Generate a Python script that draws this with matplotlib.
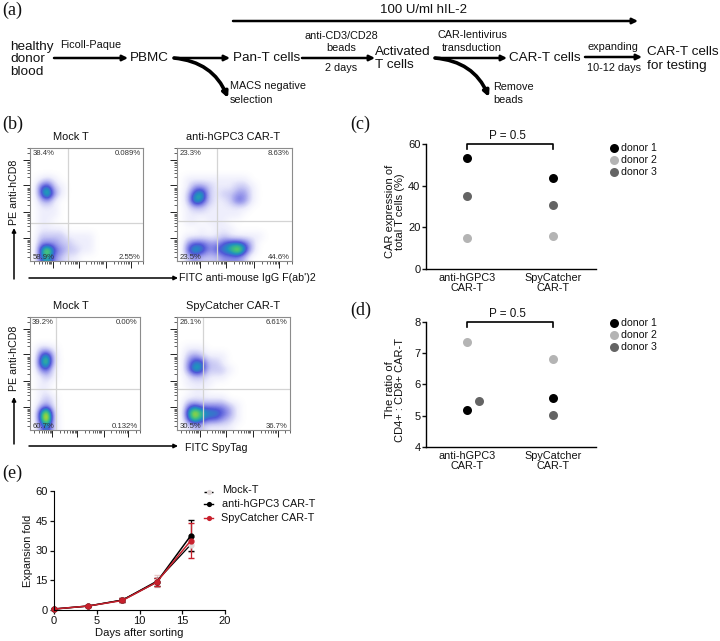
import numpy as np
import matplotlib
matplotlib.use('Agg')
import matplotlib.pyplot as plt
from matplotlib.colors import LinearSegmentedColormap
from matplotlib.patches import FancyArrowPatch

plt.rcParams['font.family'] = ['Liberation Sans', 'DejaVu Sans']

W, H = 720, 641

# flow plots: density read by eye on a 16x16 grid, 0 = empty, 9 = hottest
mock1_density = ['', '', '', '',
                 '0121', '04521', '04731', '0231', '0111', '0111', '011', '01111',
                 '022221111', '033322111', '058432211', '04632110']
gpc3_density = ['', '', '', '',
                '01111111110', '01332111221', '02562122331', '02652112431', '0122111111', '011111111', '0110111', '00010111',
                '011111211111', '0344334554200', '0465345685200', '0232223332']
mock2_density = ['', '', '', '',
                 '0221', '0462', '0572', '0341', '0121', '011', '011', '0121',
                 '0231', '0582', '0592', '0352']
spy_density = ['', '', '', '',
               '0111', '02321110', '03552210', '03652221', '01221110', '01111', '00110', '01111110',
               '034333321', '058655431', '047544321', '01221111']

mock1_pct = ['38.4%', '0.089%', '58.9%', '2.55%']
gpc3_pct = ['23.3%', '8.63%', '23.5%', '44.6%']
mock2_pct = ['39.2%', '0.00%', '60.7%', '0.132%']
spy_pct = ['26.1%', '6.61%', '30.5%', '36.7%']

# panel c and d
car_names = ['anti-hGPC3\nCAR-T', 'SpyCatcher\nCAR-T']
donor_names = ['donor 1', 'donor 2', 'donor 3']
donor_colors = ['#000000', '#b4b4b4', '#646464']
c_x = [[1, 2], [1, 2], [1, 2]]
c_vals = [[53.5, 43.5], [14.7, 15.7], [35.0, 30.5]]
d_x = [[1, 2], [1, 2], [1.14, 2]]
d_vals = [[5.2, 5.57], [7.35, 6.83], [5.47, 5.03]]

# panel e
days = [0, 4, 8, 12, 16]
mock_fold = [0.5, 2.0, 5.0, 14.5, 33.0]
mock_err = [0.2, 0.3, 0.8, 3.0, 4.0]
gpc3_fold = [0.5, 2.0, 5.0, 14.0, 37.5]
gpc3_err = [0.3, 0.3, 1.0, 2.0, 8.0]
spy_fold = [0.5, 2.0, 4.8, 14.0, 35.0]
spy_err = [0.2, 0.3, 1.0, 2.0, 9.0]

flow_cmap = LinearSegmentedColormap.from_list('flow', ['#ffffff', '#eeeefc', '#c8c8f4', '#9494ea', '#5058d8',
                                                        '#2090c0', '#40c080', '#a8d830', '#e8a020', '#e03010'])

fig = plt.figure(figsize=(W / 100, H / 100), dpi=100)


def px_axes(left, top, right, bottom):
    return fig.add_axes([left / W, 1 - bottom / H, (right - left) / W, (bottom - top) / H])


# whole figure overlay in pixels for the diagram and labels
bg = fig.add_axes([0, 0, 1, 1], zorder=5)
bg.set_xlim(0, W)
bg.set_ylim(H, 0)
bg.axis('off')
bg.patch.set_alpha(0)


def label(x, y, s, size=7.8, ha='left', **kw):
    bg.text(x, y, s, fontsize=size, ha=ha, va='center', color=kw.pop('color', '#111111'), **kw)


def arrow(x0, y0, x1, y1, lw=1.6, rad=0.0, head=8):
    bg.add_patch(FancyArrowPatch((x0, y0), (x1, y1), arrowstyle='-|>', mutation_scale=head, lw=lw, color='black',
                                 connectionstyle='arc3,rad=%s' % rad, shrinkA=0, shrinkB=0))


def flow_plot(box, rows, vgate, hgate, pct):
    ax = px_axes(*box)
    grid = np.array([[int(c) for c in r.ljust(16, '0')] for r in rows])
    ax.imshow(grid, extent=(0, 1, 0, 1), cmap=flow_cmap, vmin=0, vmax=9, interpolation='bicubic', aspect='auto')
    ax.axvline(vgate, color='#d4d4d4', lw=0.9)
    ax.axhline(hgate, color='#d4d4d4', lw=0.9)
    for s in ax.spines.values():
        s.set_color('#8c8c8c')
        s.set_linewidth(0.8)
    # log style ticks
    major = [0.2, 0.43, 0.67, 0.89]
    dec = [-0.03] + major
    minor = [d + 0.23 * np.log10(k) for d in dec for k in range(2, 10)]
    minor = [m for m in minor if 0.01 < m < 1]
    for axis in (ax.xaxis, ax.yaxis):
        axis.set_ticks(major)
        axis.set_ticks(minor, minor=True)
        axis.set_ticklabels([])
    ax.tick_params(which='major', length=5, width=0.7, color='#222222')
    ax.tick_params(which='minor', length=2.5, width=0.5, color='#222222')
    ax.set_xlim(0, 1)
    ax.set_ylim(0, 1)
    kw = dict(fontsize=5.6, color='#333333', transform=ax.transAxes, zorder=5)
    ax.text(0.02, 0.955, pct[0], ha='left', va='center', **kw)
    ax.text(0.98, 0.955, pct[1], ha='right', va='center', **kw)
    ax.text(0.02, 0.035, pct[2], ha='left', va='center', **kw)
    ax.text(0.98, 0.035, pct[3], ha='right', va='center', **kw)


flow_plot((30, 148, 143, 261), mock1_density, 0.34, 0.34, mock1_pct)
flow_plot((177, 148, 292, 261), gpc3_density, 0.35, 0.35, gpc3_pct)
flow_plot((30, 317, 140, 430), mock2_density, 0.24, 0.36, mock2_pct)
flow_plot((177, 317, 290, 430), spy_density, 0.23, 0.36, spy_pct)


def dot_plot(top, bottom, xs, vals, ylim, yticks, ylabel, legend_y):
    ax = px_axes(426, top, 596, bottom)
    for x, v, col in zip(xs, vals, donor_colors):
        ax.scatter(x, v, s=42, color=col, zorder=3, linewidths=0)
    ax.set_xlim(0.523, 2.5)
    ax.set_ylim(*ylim)
    ax.set_xticks([1, 2])
    ax.set_xticklabels(car_names, fontsize=7.8, linespacing=0.95, color='#111111')
    ax.tick_params(axis='x', length=0, pad=3)
    ax.set_yticks(yticks)
    ax.tick_params(axis='y', length=3, width=1, labelsize=8, pad=1, colors='#111111')
    for s in ['top', 'right']:
        ax.spines[s].set_visible(False)
    ax.spines['left'].set_linewidth(1)
    ax.spines['bottom'].set_linewidth(1)
    bg.text(395, (top + bottom) / 2 + 5, ylabel, rotation=90, fontsize=8, ha='center', va='center',
            linespacing=0.95, color='#111111')
    # bracket
    bg.plot([467, 467, 553, 553], [top + 5, top, top, top + 5], color='black', lw=1.2)
    label(507, top - 8, 'P = 0.5', 8.4, ha='center')
    for k, (name, col) in enumerate(zip(donor_names, donor_colors)):
        bg.scatter(614, legend_y + 12 * k, s=42, color=col, linewidths=0)
        label(621, legend_y + 12 * k, name, 7.6)


dot_plot(144, 269, c_x, c_vals, (0, 60), [0, 20, 40, 60], 'CAR expression of\ntotal T cells (%)', 148)
dot_plot(322, 447, d_x, d_vals, (4, 8), [4, 5, 6, 7, 8], 'The ratio of\nCD4+ : CD8+ CAR-T', 323)

# panel e
axe = px_axes(54, 491, 225, 610)
axe.errorbar(days, mock_fold, yerr=mock_err, color='black', lw=0.9, capsize=2.5, elinewidth=0.8,
             marker='o', ms=3.5, mfc='#e0d8d8', mec='#e0d8d8', ecolor='#e8c8c8')
axe.errorbar(days, gpc3_fold, yerr=gpc3_err, color='black', lw=1.1, capsize=2.5, elinewidth=0.9,
             marker='o', ms=3.5)
axe.errorbar(days, spy_fold, yerr=spy_err, color='#c8202c', lw=1.1, capsize=2.5, elinewidth=0.9,
             marker='o', ms=3.5)
axe.set_xlim(0, 20)
axe.set_ylim(0, 60)
axe.set_xticks([0, 5, 10, 15, 20])
axe.set_yticks([0, 15, 30, 45, 60])
axe.tick_params(length=3, width=0.9, labelsize=8, pad=1.5, colors='#111111')
axe.set_xlabel('Days after sorting', fontsize=8.1, labelpad=1, color='#111111')
axe.set_ylabel('Expansion fold', fontsize=7.9, labelpad=2, color='#111111')
for s in ['top', 'right']:
    axe.spines[s].set_visible(False)
axe.patch.set_alpha(0)
for art in axe.get_children():
    art.set_clip_on(False)

# legend of e
bg.plot([204, 213], [492, 492], color='black', lw=1, ls=(0, (3, 1.5)))
bg.scatter(209, 492, s=14, color='#e0d8d8', linewidths=0, zorder=3)
label(222, 490, 'Mock-T', 7.8)
bg.plot([204, 213], [504, 504], color='black', lw=1)
bg.scatter(209, 504, s=14, color='black', linewidths=0, zorder=3)
label(222, 504, 'anti-hGPC3 CAR-T', 7.8)
bg.plot([204, 213], [518, 518], color='#c8202c', lw=1)
bg.scatter(209, 518, s=14, color='#c8202c', linewidths=0, zorder=3)
label(221, 518, 'SpyCatcher CAR-T', 7.8)

# panel letters
for x, y, s in [(2, 10, '(a)'), (2, 124, '(b)'), (350, 124, '(c)'), (350, 310, '(d)'), (2, 473, '(e)')]:
    bg.text(x, y, s, fontsize=13, family='Liberation Serif', ha='left', va='center', color='#111111')

# panel a diagram
big = 9.7
small = 7.8
label(423, 10, '100 U/ml hIL-2', 9.5, ha='center')
arrow(233, 21, 638, 21, lw=1.8)
label(10, 47, 'healthy', big)
label(10, 59, 'donor', big)
label(10, 72, 'blood', big)
label(60, 45, 'Ficoll-Paque', small)
arrow(54, 58, 128, 58, lw=1.8)
label(130, 58, 'PBMC', big)
arrow(174, 58, 230, 58, lw=1.8)
label(233, 58, 'Pan-T cells', big)
arrow(302, 58, 375, 58, lw=1.8)
label(341, 36, 'anti-CD3/CD28', small, ha='center')
label(341, 48, 'beads', small, ha='center')
label(341, 68, '2 days', small, ha='center')
label(375, 52, 'Activated', big)
label(375, 65, 'T cells', big)
arrow(435, 58, 507, 58, lw=1.8)
label(472, 35, 'CAR-lentivirus', small, ha='center')
label(472, 48, 'transduction', small, ha='center')
label(509, 58, 'CAR-T cells', big)
arrow(585, 57, 642, 57, lw=1.8)
label(613, 47, 'expanding', small, ha='center')
label(614, 68, '10-12 days', small, ha='center')
label(647, 52, 'CAR-T cells', big)
label(647, 66, 'for testing', big)
arrow(174, 58, 228, 98, lw=2.6, rad=-0.3)
arrow(435, 58, 489, 97, lw=2.6, rad=-0.3)
label(230, 86, 'MACS negative', small)
label(230, 100, 'selection', small)
label(493, 87, 'Remove', small)
label(493, 100, 'beads', small)

# panel b labels and arrows
label(71, 137, 'Mock T', 7.9, ha='center')
label(233, 137, 'anti-hGPC3 CAR-T', 7.9, ha='center')
label(71, 306, 'Mock T', 7.9, ha='center')
label(233, 306, 'SpyCatcher CAR-T', 7.9, ha='center')
bg.text(14, 192, 'PE anti-hCD8', rotation=90, fontsize=7.7, ha='center', va='center', color='#111111')
bg.text(14, 358, 'PE anti-hCD8', rotation=90, fontsize=7.7, ha='center', va='center', color='#111111')
arrow(14, 279, 14, 228, lw=1.1, head=6)
arrow(29, 278, 178, 278, lw=1.1, head=6)
label(179, 278, "FITC anti-mouse IgG F(ab')2", 7.7)
arrow(14, 444, 14, 397, lw=1.1, head=6)
arrow(29, 446, 178, 446, lw=1.1, head=6)
label(185, 448, 'FITC SpyTag', 7.7)

fig.savefig('out.png', dpi=100)
